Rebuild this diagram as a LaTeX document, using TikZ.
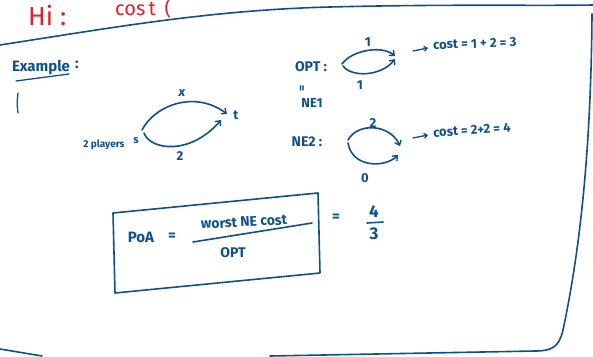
\documentclass[tikz,border=0pt]{standalone}
\usepackage{fontspec}
\setmainfont{Fira Sans}
\usetikzlibrary{arrows.meta}
\definecolor{ink}{RGB}{14,80,140}
\definecolor{redink}{RGB}{228,30,40}
\begin{document}
\begin{tikzpicture}[x=1pt,y=-1pt, line cap=round, line join=round,
  pen/.style={draw=ink, line width=1.6pt},
  thin pen/.style={draw=ink, line width=1.3pt},
  txt/.style={text=ink, inner sep=0pt, font=\bfseries\fontsize{13}{15}\selectfont},
  big/.style={txt, font=\bfseries\fontsize{15}{17}\selectfont},
  redtxt/.style={text=redink, inner sep=0pt, anchor=base west},
  tip/.style={-{Straight Barb[length=4pt,width=7pt,line width=1.4pt]}}]
\useasboundingbox (0,0) rectangle (593,356);

% red heading at the top edge
\node[redtxt, font=\fontsize{26}{26}\selectfont] (hi) at (28,25) {Hi :};
\node[redtxt, font=\fontsize{20}{20}\selectfont] (costi) at (115,16) {cos\,t\, (};

% page frame strokes
\draw[pen] (0,45) .. controls (110,28) and (210,10) .. (330,7) .. controls (450,4) and (530,6) .. (593,5);
\draw[pen] (592,14) .. controls (591,150) and (580,250) .. (563,330) .. controls (559,347) and (552,351) .. (535,351) -- (270,356);
\draw[pen] (0,349) -- (42,356);

% Example
\node[big] (ex) at (41,67) {Example};
\node[big] (excolon) at (77,65) {:};
\draw[thin pen] (16,81) -- (69,74);
\draw[thin pen] (18,93) .. controls (17,100) and (17,107) .. (18,113);

% network s -> t
\coordinate (s) at (142,130);
\coordinate (t) at (227,114);
\coordinate (s2) at (144,133);
\coordinate (t2) at (221,120);
\node[txt] (tl) at (236,115) {t};
\node[txt, font=\bfseries\fontsize{11}{13}\selectfont] (sl) at (136,141) {s};
\node[txt, font=\bfseries\fontsize{10}{12}\selectfont] (pl) at (104,145) {2 players};
\draw[pen, tip] (s) .. controls (155,105) and (195,90) .. (t);
\draw[pen, tip] (s2) .. controls (150,150) and (190,156) .. (t2);
\node[txt, font=\bfseries\itshape\fontsize{13}{15}\selectfont] (xl) at (182,93) {x};
\node[txt] (twol) at (180,156) {2};

% OPT
\node[txt, font=\bfseries\fontsize{14}{16}\selectfont] (opt) at (311,67) {OPT :};
\coordinate (o1) at (342,64);
\coordinate (o2) at (395,56);
\coordinate (o3) at (343,66);
\coordinate (o4) at (395,59);
\draw[pen, tip] (o1) .. controls (352,50) and (382,45) .. (o2);
\draw[pen, tip] (o3) .. controls (352,78) and (382,76) .. (o4);
\node[txt] (opt1) at (368,42) {1};
\node[txt] (opt2) at (360,85) {1};
\coordinate (oa1) at (413,51);
\coordinate (oa2) at (428,48);
\draw[thin pen, -{Straight Barb[length=3pt,width=5pt]}] (oa1) -- (oa2);
\node[txt, anchor=west, rotate=2] (oc) at (433,45) {cost = 1 + 2 = 3};

% NE1
\node[txt, rotate=90, font=\bfseries\fontsize{12}{12}\selectfont] (eq) at (303,88) {=};
\node[txt, font=\bfseries\fontsize{13}{15}\selectfont] (ne1) at (312,103) {NE1};

% NE2
\node[txt, font=\bfseries\fontsize{14}{16}\selectfont] (ne2) at (307,142) {NE2 :};
\coordinate (n1) at (348,140);
\coordinate (n2) at (400,146);
\coordinate (n3) at (348,143);
\coordinate (n4) at (398,155);
\draw[pen, tip] (n1) .. controls (358,122) and (390,124) .. (n2);
\draw[pen, tip] (n3) .. controls (352,168) and (385,168) .. (n4);
\node[txt] (ne2a) at (373,123) {2};
\node[txt] (ne2b) at (365,178) {0};
\coordinate (na1) at (413,138);
\coordinate (na2) at (428,135);
\draw[thin pen, -{Straight Barb[length=3pt,width=5pt]}] (na1) -- (na2);
\node[txt, anchor=west, rotate=4] (nc) at (433,133) {cost = 2+2 = 4};

% PoA box
\coordinate (b1) at (113,213);
\coordinate (b2) at (318,193);
\coordinate (b3) at (320,273);
\coordinate (b4) at (115,293);
\draw[pen] (b1) -- (b2) -- (b3) -- (b4) -- cycle;
\node[big] (poa) at (141,237) {PoA};
\node[big] (poaeq) at (172,237) {=};
\node[txt, rotate=3, font=\bfseries\fontsize{14}{16}\selectfont] (num) at (244,222) {worst NE cost};
\coordinate (f1) at (193,242);
\coordinate (f2) at (312,223);
\draw[pen] (f1) -- (f2);
\node[txt, font=\bfseries\fontsize{14}{16}\selectfont] (den) at (233,253) {OPT};
\node[big] (eq2) at (336,218) {=};
\node[big, font=\bfseries\fontsize{17}{19}\selectfont] (four) at (374,212) {4};
\coordinate (q1) at (367,223);
\coordinate (q2) at (383,222);
\draw[pen] (q1) -- (q2);
\node[big, font=\bfseries\fontsize{17}{19}\selectfont] (three) at (374,234) {3};
\end{tikzpicture}
\end{document}
